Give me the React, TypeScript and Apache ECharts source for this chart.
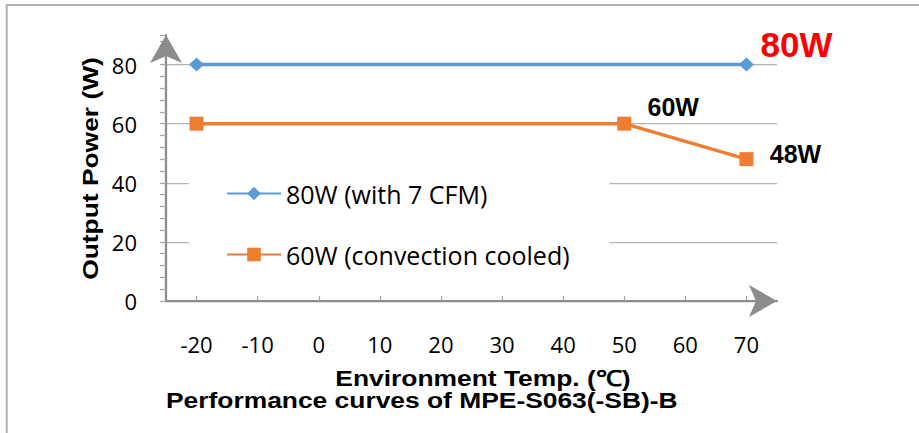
import { useEffect, useRef } from 'react';
import * as echarts from 'echarts';

// ---- data ----
const seriesNames = ['80W (with 7 CFM)', '60W (convection cooled)'];
const fanTemps = [-20, 70];
const fanPower = [80, 80];
const convTemps = [-20, 50, 70];
const convPower = [60, 60, 48];
const fanLabels = ['', '80W'];
const convLabels = ['', '60W', '48W'];
const xTicks = [-20, -10, 0, 10, 20, 30, 40, 50, 60, 70];
const yTicks = [0, 20, 40, 60, 80];
const xTitle = 'Environment Temp. (℃)';
const yTitle = 'Output Power (W)';
const chartTitle = 'Performance curves of MPE-S063(-SB)-B';

const BLUE = '#5b9bd5';
const ORANGE = '#ed7d31';
const AXIS = '#8c8c8c';
const TICK = '#a6a6a6';
const GRID = '#b3b3b3';
const BOLD = 'Liberation Sans, Arial, sans-serif';
const REG = '"Open Sans", sans-serif';

function buildOption() {
  const fanOffsets: Record<number, number[]> = { 1: [50, -20] };
  const convOffsets: Record<number, number[]> = { 1: [49, -17], 2: [49, -5] };
  const fanData = fanTemps.map((t, i) => ({
    value: [t, fanPower[i]],
    label: fanLabels[i]
      ? {
          show: true,
          position: 'inside',
          formatter: fanLabels[i],
          offset: fanOffsets[i],
          fontFamily: BOLD,
          fontWeight: 'bold',
          fontSize: 35,
          color: '#ff0000',
        }
      : { show: false },
  }));
  const convData = convTemps.map((t, i) => ({
    value: [t, convPower[i]],
    label: convLabels[i]
      ? {
          show: true,
          position: 'inside',
          formatter: convLabels[i],
          offset: convOffsets[i],
          fontFamily: BOLD,
          fontWeight: 'bold',
          fontSize: 25,
          color: '#000',
        }
      : { show: false },
  }));

  const axisLineStyle = { color: AXIS, width: 2.25 };

  return {
    animation: false,
    backgroundColor: '#fff',
    grid: { left: 166, right: 142, top: 35, bottom: 132, containLabel: false, outerBoundsMode: 'none' },
    legend: {
      orient: 'vertical',
      left: 189,
      top: 161,
      padding: [20, 40, 20, 37],
      backgroundColor: '#fff',
      itemWidth: 54,
      itemHeight: 17,
      itemGap: 36,
      data: seriesNames,
      textStyle: { fontFamily: REG, fontSize: 25, color: '#000' },
    },
    xAxis: {
      type: 'value',
      min: -25,
      max: 75,
      minInterval: 10,
      maxInterval: 10,
      axisLine: {
        show: true,
        onZero: false,
        symbol: ['none', 'arrow'],
        symbolSize: [24, 28],
        symbolOffset: [0, 0],
        lineStyle: axisLineStyle,
      },
      axisTick: { show: true, inside: true, length: 5, lineStyle: { color: TICK, width: 1.25 } },
      axisLabel: {
        margin: 32,
        fontFamily: REG,
        fontSize: 22,
        color: '#000',
        showMinLabel: false,
        showMaxLabel: false,
        formatter: (v: number) => (xTicks.includes(v) ? String(v) : ''),
      },
      splitLine: { show: false },
    },
    yAxis: {
      type: 'value',
      min: 0,
      max: 90,
      interval: 20,
      axisLine: {
        show: true,
        onZero: false,
        symbol: ['none', 'arrow'],
        symbolSize: [24, 28],
        symbolOffset: [0, 0],
        lineStyle: axisLineStyle,
      },
      axisTick: { show: true, inside: false, length: 6, lineStyle: { color: TICK, width: 1.25 } },
      minorTick: { show: true, splitNumber: 5, length: 6, lineStyle: { color: TICK, width: 1.25 } },
      axisLabel: {
        margin: 29,
        fontFamily: REG,
        fontSize: 22,
        color: '#000',
        showMaxLabel: false,
        formatter: (v: number) => (yTicks.includes(v) ? String(v) : ''),
      },
      splitLine: {
        show: true,
        showMinLine: false,
        showMaxLine: false,
        lineStyle: { color: GRID, width: 1.25 },
      },
    },
    series: [
      {
        type: 'line',
        name: seriesNames[0],
        data: fanData,
        symbol: 'diamond',
        symbolSize: [15, 14],
        lineStyle: { color: BLUE, width: 3.5 },
        itemStyle: { color: BLUE },
        z: 3,
      },
      {
        type: 'line',
        name: seriesNames[1],
        data: convData,
        symbol: 'rect',
        symbolSize: 14,
        lineStyle: { color: ORANGE, width: 3.5 },
        itemStyle: { color: ORANGE },
        z: 3,
      },
    ],
    graphic: [
      { type: 'line', shape: { x1: 6, y1: 5, x2: 919, y2: 5 }, style: { stroke: '#b0b0b0', lineWidth: 2 }, silent: true },
      { type: 'line', shape: { x1: 6.7, y1: 5, x2: 6.7, y2: 433 }, style: { stroke: '#b0b0b0', lineWidth: 2 }, silent: true },
      {
        type: 'text',
        x: 90.5,
        y: 168.5,
        rotation: Math.PI / 2,
        scaleX: 1.2,
        style: {
          text: yTitle,
          font: `bold 22px ${BOLD}`,
          fill: '#000',
          textAlign: 'center',
          textVerticalAlign: 'middle',
        },
      },
      {
        type: 'text',
        x: 483,
        y: 378,
        scaleX: 1.2,
        style: {
          text: xTitle,
          font: `bold 22px ${BOLD}`,
          fill: '#000',
          textAlign: 'center',
          textVerticalAlign: 'middle',
        },
      },
      {
        type: 'text',
        x: 166,
        y: 400.5,
        scaleX: 1.2,
        style: {
          text: chartTitle,
          font: `bold 22px ${BOLD}`,
          fill: '#000',
          textAlign: 'left',
          textVerticalAlign: 'middle',
        },
      },
    ],
  };
}

export default function App() {
  const ref = useRef<HTMLDivElement>(null);
  useEffect(() => {
    document.body.style.margin = '0';
    if (!ref.current) return;
    const chart = echarts.init(ref.current, null, { renderer: 'svg' });
    chart.setOption(buildOption() as any);
    return () => chart.dispose();
  }, []);
  return <div ref={ref} style={{ width: 919, height: 433 }} />;
}
